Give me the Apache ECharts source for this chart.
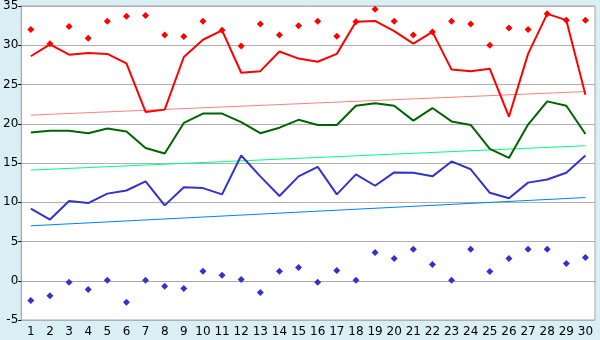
<!DOCTYPE html>
<html>
<head>
<meta charset="utf-8">
<script src="https://cdn.jsdelivr.net/npm/echarts@6/dist/echarts.min.js"></script>
<style>
  html, body { margin: 0; padding: 0; background: #daeef6; }
  #chart { width: 600px; height: 340px; }
</style>
</head>
<body>
<div id="chart"></div>
<script>
var days = [];
for (var d = 1; d <= 30; d++) days.push(String(d));

// red: main line and the diamonds above it
var redLine = [28.6, 30.1, 28.8, 29.0, 28.9, 27.7, 21.5, 21.8, 28.5, 30.7,
               31.9, 26.5, 26.7, 29.2, 28.3, 27.9, 28.9, 33.0, 33.1, 31.8,
               30.2, 31.7, 26.9, 26.7, 27.0, 20.9, 28.9, 34.0, 33.2, 23.7];
var redPts = [32.0, 30.2, 32.4, 30.9, 33.05, 33.7, 33.8, 31.3, 31.1, 33.05,
              31.9, 29.9, 32.7, 31.3, 32.5, 33.05, 31.15, 33.0, 34.6, 33.05,
              31.3, 31.7, 33.05, 32.7, 30.0, 32.2, 32.0, 34.0, 33.2, 33.2];
var greenLine = [18.9, 19.1, 19.1, 18.8, 19.4, 19.0, 16.9, 16.2, 20.1, 21.3,
                 21.3, 20.2, 18.8, 19.5, 20.5, 19.85, 19.85, 22.3, 22.6, 22.3,
                 20.4, 22.0, 20.3, 19.85, 16.8, 15.65, 19.9, 22.85, 22.3, 18.7];
var blueLine = [9.2, 7.8, 10.15, 9.9, 11.1, 11.5, 12.65, 9.6, 11.9, 11.8,
                11.0, 15.95, 13.3, 10.8, 13.3, 14.5, 11.0, 13.55, 12.1, 13.8,
                13.75, 13.3, 15.2, 14.2, 11.2, 10.5, 12.5, 12.9, 13.75, 15.95];
var bluePts = [-2.5, -1.9, -0.2, -1.1, 0.05, -2.75, 0.05, -0.7, -1.0, 1.2,
               0.7, 0.17, -1.5, 1.2, 1.7, -0.2, 1.3, 0.05, 3.6, 2.83,
               4.0, 2.07, 0.05, 4.0, 1.18, 2.83, 4.0, 4.0, 2.2, 2.95];

// trend lines: first and last day only
var redTrend = [['1', 21.1], ['30', 24.1]];
var greenTrend = [['1', 14.1], ['30', 17.2]];
var blueTrend = [['1', 7.0], ['30', 10.6]];

var chart = echarts.init(document.getElementById('chart'));

function lineSeries(data, color, width) {
    return {
        type: 'line',
        data: data,
        symbol: 'none',
        smooth: false,
        animation: false,
        lineStyle: { color: color, width: width },
        z: width > 1 ? 3 : 2
    };
}
function dotSeries(data, color) {
    return {
        type: 'scatter',
        data: data,
        symbol: 'diamond',
        symbolSize: 7,
        animation: false,
        itemStyle: { color: color, opacity: 1 },
        z: 4
    };
}

var option = {
    backgroundColor: '#daeef6',
    animation: false,
    textStyle: { fontFamily: 'DejaVu Sans' },
    grid: {
        left: 20, right: 5, top: 5, bottom: 20,
        show: true,
        backgroundColor: '#ffffff',
        borderColor: '#a8a8a8',
        borderWidth: 1
    },
    xAxis: {
        type: 'category',
        data: days,
        boundaryGap: true,
        axisLine: { lineStyle: { color: '#a8a8a8' } },
        axisTick: { alignWithLabel: true, length: 5, lineStyle: { color: '#000' } },
        axisLabel: { color: '#000', fontSize: 12, margin: 6, interval: 0 },
        splitLine: { show: false }
    },
    yAxis: {
        type: 'value',
        min: -5, max: 35, interval: 5,
        axisLine: { show: true, lineStyle: { color: '#a8a8a8' } },
        axisTick: { show: true, length: 3, lineStyle: { color: '#000' } },
        axisLabel: { color: '#000', fontSize: 12, margin: 3 },
        splitLine: { lineStyle: { color: '#b0b0b0' } }
    },
    series: [
        lineSeries(redTrend, '#ff8080', 1),
        lineSeries(greenTrend, '#00ff80', 1),
        lineSeries(blueTrend, '#0080ff', 1),
        lineSeries(redLine, '#ff0000', 2),
        lineSeries(greenLine, '#006400', 2),
        lineSeries(blueLine, '#3333cc', 2),
        dotSeries(redPts, '#ff0000'),
        dotSeries(bluePts, '#3333cc')
    ]
};

chart.setOption(option);
</script>
</body>
</html>
